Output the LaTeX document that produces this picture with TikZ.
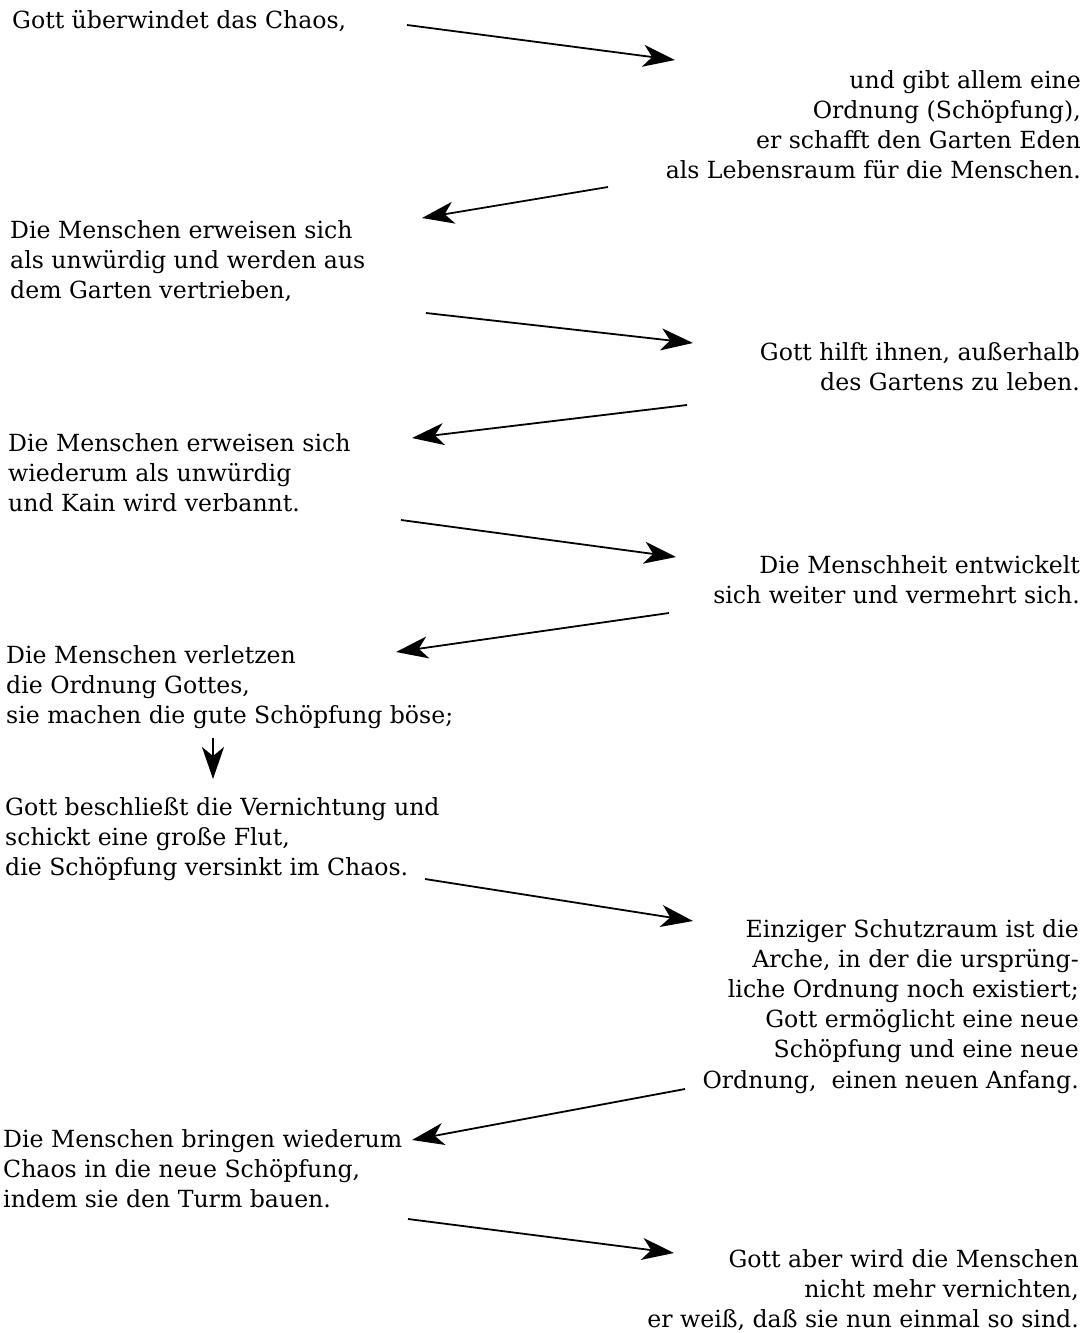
\documentclass[tikz,border=0pt]{standalone}
\usepackage{fontspec}
\setmainfont{DejaVu Serif}
\usetikzlibrary{arrows.meta}
\begin{document}
\begin{tikzpicture}[x=1pt,y=-1pt,
  txt/.style={inner sep=0pt,font=\fontsize{23.6}{30.2}\selectfont},
  lft/.style={txt,anchor=north west,align=left},
  rgt/.style={txt,anchor=north east,align=right},
  arr/.style={line width=1.8pt,-{Stealth[length=32pt,width=22pt,inset=9pt]}}]
\useasboundingbox (0,0) rectangle (1089,1333);
\node[lft] (b1) at (12,10) {Gott überwindet das Chaos,};
\node[rgt] (b2) at (1081,70) {und gibt allem eine\\Ordnung (Schöpfung),\\er schafft den Garten Eden\\als Lebensraum für die Menschen.};
\node[lft] (b3) at (10,220) {Die Menschen erweisen sich\\als unwürdig und werden aus\\dem Garten vertrieben,};
\node[rgt] (b4) at (1080,342) {Gott hilft ihnen, außerhalb\\des Gartens zu leben.};
\node[lft] (b5) at (8,433) {Die Menschen erweisen sich\\wiederum als unwürdig\\und Kain wird verbannt.};
\node[rgt] (b6) at (1080,555) {Die Menschheit entwickelt\\sich weiter und vermehrt sich.};
\node[lft] (b7) at (6,645) {Die Menschen verletzen\\die Ordnung Gottes,\\sie machen die gute Schöpfung böse;};
\node[lft] (b8) at (5,797) {Gott beschließt die Vernichtung und\\schickt eine große Flut,\\die Schöpfung versinkt im Chaos.};
\node[rgt] (b9) at (1079,919) {Einziger Schutzraum ist die\\Arche, in der die ursprüng-\\liche Ordnung noch existiert;\\Gott ermöglicht eine neue\\Schöpfung und eine neue\\Ordnung,\ \ einen neuen Anfang.};
\node[lft] (b10) at (3,1129) {Die Menschen bringen wiederum\\Chaos in die neue Schöpfung,\\indem sie den Turm bauen.};
\node[rgt] (b11) at (1079,1249) {Gott aber wird die Menschen\\nicht mehr vernichten,\\er weiß, daß sie nun einmal so sind.};
\coordinate (a1s) at (407,25);   \coordinate (a1e) at (675,60);
\coordinate (a2s) at (608,187);  \coordinate (a2e) at (422,218);
\coordinate (a3s) at (426,313);  \coordinate (a3e) at (693,343);
\coordinate (a4s) at (687,405);  \coordinate (a4e) at (412,438);
\coordinate (a5s) at (401,520);  \coordinate (a5e) at (676,557);
\coordinate (a6s) at (669,613);  \coordinate (a6e) at (396,652);
\coordinate (a7s) at (213,738);  \coordinate (a7e) at (213,779);
\coordinate (a8s) at (425,879);  \coordinate (a8e) at (693,921);
\coordinate (a9s) at (685,1089); \coordinate (a9e) at (412,1140);
\coordinate (a10s) at (408,1219); \coordinate (a10e) at (674,1253);
\foreach \i in {1,...,10} {\draw[arr] (a\i s) -- (a\i e);}
\end{tikzpicture}
\end{document}
